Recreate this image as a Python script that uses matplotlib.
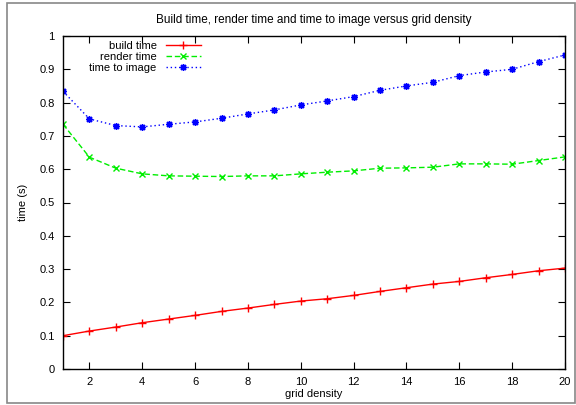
import matplotlib.pyplot as plt
from matplotlib.patches import Rectangle

plt.rcParams['font.family'] = ['Liberation Sans', 'DejaVu Sans']

grid_density = list(range(1, 21))
build_time = [0.100, 0.114, 0.126, 0.139, 0.150, 0.161, 0.173, 0.183, 0.194, 0.204,
              0.211, 0.221, 0.233, 0.244, 0.255, 0.263, 0.274, 0.284, 0.295, 0.303]
render_time = [0.735, 0.636, 0.603, 0.586, 0.580, 0.579, 0.578, 0.580, 0.580, 0.586,
               0.591, 0.595, 0.603, 0.604, 0.606, 0.616, 0.616, 0.615, 0.626, 0.637]
image_time = [0.834, 0.751, 0.731, 0.727, 0.735, 0.742, 0.753, 0.766, 0.778, 0.793,
              0.805, 0.818, 0.837, 0.850, 0.861, 0.881, 0.892, 0.900, 0.923, 0.943]

fig = plt.figure(figsize=(5.76, 4.05), dpi=100)
ax = fig.add_axes([63/576, 1-369/405, (565-63)/576, (369-36)/405])

# gray frame round the whole picture
fig.patches.append(Rectangle((7/576, 2/405), 568/576, 400/405, transform=fig.transFigure,
                             fill=False, edgecolor='#888888', lw=1.2))

ax.plot(grid_density, build_time, color='#ff0000', lw=1, ls='-', marker='+', ms=6,
        mew=1, label='build time')
ax.plot(grid_density, render_time, color='#00ee00', lw=1, ls=(0, (4, 2)), marker='x', ms=5,
        mew=1, label='render time')
ax.plot(grid_density, image_time, color='#0000ff', lw=1, ls=(0, (1, 2)), marker=(8, 2, 0),
        ms=5, mew=1, label='time to image')

ax.set_xlim(1, 20)
ax.set_ylim(0, 1)
ax.set_xticks(range(2, 21, 2))
ax.set_yticks([i / 10 for i in range(11)])
ax.set_yticklabels(['0', '0.1', '0.2', '0.3', '0.4', '0.5', '0.6', '0.7', '0.8', '0.9', '1'])
ax.tick_params(direction='in', top=True, right=True, labelsize=8, length=5, width=0.8, pad=6)
for s in ax.spines.values():
    s.set_linewidth(1)

ax.set_title('Build time, render time and time to image versus grid density', fontsize=8.5, pad=9)
ax.set_xlabel('grid density', fontsize=8, labelpad=1)
ax.set_ylabel('time (s)', fontsize=8, labelpad=8)

ax.legend(loc='upper left', bbox_to_anchor=(0.035, 1.012), frameon=False, markerfirst=False,
          fontsize=8, handlelength=3.2, labelspacing=0.1, borderpad=0.3, handletextpad=0.8)

fig.savefig('out.png', dpi=100)
